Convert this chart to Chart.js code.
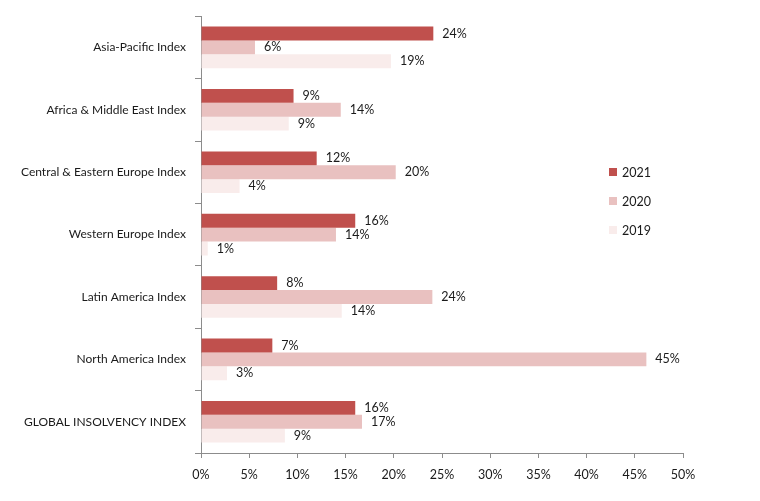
<!DOCTYPE html>
<html>
<head>
<meta charset="utf-8">
<script src="https://cdn.jsdelivr.net/npm/chart.js@4"></script>
<style>
    html, body { margin: 0; padding: 0; background: #ffffff; }
    #wrap { width: 760px; height: 501px; }
</style>
</head>
<body>
<div id="wrap"><canvas id="insolvencyChart"></canvas></div>
<script>
const categories = [
    "Asia-Pacific Index",
    "Africa & Middle East Index",
    "Central & Eastern Europe Index",
    "Western Europe Index",
    "Latin America Index",
    "North America Index",
    "GLOBAL INSOLVENCY INDEX"
];
const seriesNames = ["2021", "2020", "2019"];
const values2021 = [24.1, 9.6, 12.0, 16.0, 7.9, 7.4, 16.0];
const values2020 = [5.6, 14.5, 20.2, 14.0, 24.0, 46.2, 16.7];
const values2019 = [19.7, 9.1, 4.0, 0.7, 14.6, 2.7, 8.7];
const labels2021 = ["24%", "9%", "12%", "16%", "8%", "7%", "16%"];
const labels2020 = ["6%", "14%", "20%", "14%", "24%", "45%", "17%"];
const labels2019 = ["19%", "9%", "4%", "1%", "14%", "3%", "9%"];
const xTicks = [0, 5, 10, 15, 20, 25, 30, 35, 40, 45, 50];

const colors = ["#c0504d", "#e9c1c0", "#f9eceb"];
const fontFamily = "Lato, 'Noto Sans', sans-serif";
const textColor = "#1a1a1a";
const axisColor = "#8c8c8c";

// value labels at the end of each bar
const barLabels = {
    id: "barLabels",
    afterDatasetsDraw(chart) {
        const ctx = chart.ctx;
        const labelSets = [labels2021, labels2020, labels2019];
        ctx.save();
        ctx.font = "12.5px " + fontFamily;
        ctx.fillStyle = textColor;
        ctx.textAlign = "left";
        ctx.textBaseline = "middle";
        chart.data.datasets.forEach((ds, i) => {
            const meta = chart.getDatasetMeta(i);
            meta.data.forEach((bar, j) => {
                ctx.fillText(labelSets[i][j], bar.x + 9, bar.y);
            });
        });
        ctx.restore();
    }
};

// legend drawn inside the plot on the right
const sideLegend = {
    id: "sideLegend",
    afterDraw(chart) {
        const ctx = chart.ctx;
        ctx.save();
        ctx.font = "12.5px " + fontFamily;
        ctx.textBaseline = "middle";
        seriesNames.forEach((name, i) => {
            const y = 172 + i * 29;
            ctx.fillStyle = colors[i];
            ctx.fillRect(609, y - 4, 8, 8);
            ctx.fillStyle = textColor;
            ctx.fillText(name, 622, y + 1);
        });
        ctx.restore();
    }
};

const datasets = [values2021, values2020, values2019].map((vals, i) => ({
    label: seriesNames[i],
    data: vals,
    backgroundColor: colors[i],
    borderWidth: 0,
    categoryPercentage: 0.667,
    barPercentage: 1.0
}));

new Chart(document.getElementById("insolvencyChart"), {
    type: "bar",
    data: { labels: categories, datasets: datasets },
    options: {
        indexAxis: "y",
        responsive: true,
        maintainAspectRatio: false,
        animation: false,
        layout: { padding: { top: 10, right: 77, bottom: 10, left: 0 } },
        plugins: {
            legend: { display: false },
            tooltip: { enabled: false }
        },
        scales: {
            x: {
                min: 0,
                max: 50,
                afterBuildTicks: scale => {
                    scale.ticks = xTicks.map(v => ({ value: v }));
                },
                ticks: {
                    callback: v => v + "%",
                    color: textColor,
                    font: { family: fontFamily, size: 12.5 },
                    padding: 9,
                    maxRotation: 0
                },
                grid: {
                    drawOnChartArea: false,
                    tickLength: 5,
                    color: axisColor
                },
                border: { color: axisColor, width: 1 }
            },
            y: {
                afterFit: scale => { scale.width = 201; },
                ticks: {
                    color: textColor,
                    font: { family: fontFamily, size: 12 },
                    padding: 9
                },
                grid: {
                    offset: true,
                    drawOnChartArea: false,
                    tickLength: 6,
                    color: axisColor
                },
                border: { color: axisColor, width: 1 }
            }
        }
    },
    plugins: [barLabels, sideLegend]
});
</script>
</body>
</html>
